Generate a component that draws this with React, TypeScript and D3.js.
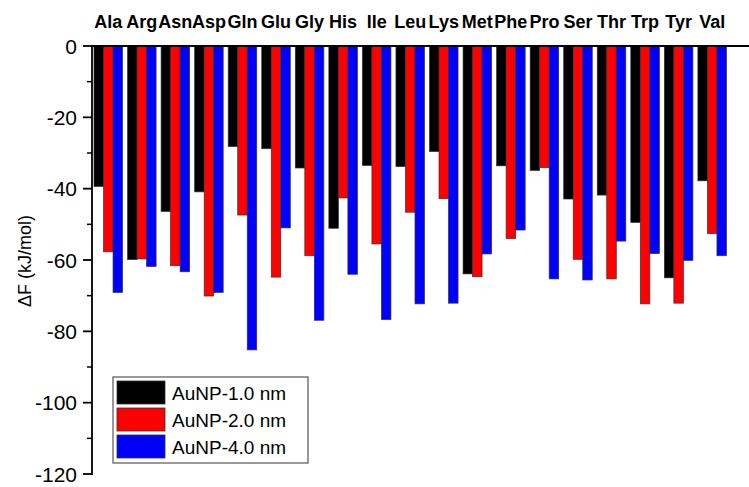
import { useEffect, useRef } from 'react'
import * as d3 from 'd3'

// amino acids across the top
const aminoAcids = ['Ala', 'Arg', 'Asn', 'Asp', 'Gln', 'Glu', 'Gly', 'His', 'Ile', 'Leu',
  'Lys', 'Met', 'Phe', 'Pro', 'Ser', 'Thr', 'Trp', 'Tyr', 'Val']

const seriesNames = ['AuNP-1.0 nm', 'AuNP-2.0 nm', 'AuNP-4.0 nm']
const seriesColors = ['#000000', '#ff0000', '#0000ff']

// ΔF values in kJ/mol
const np1 = [-39.4, -59.9, -46.4, -40.9, -28.2, -28.8, -34.2, -51.1, -33.5, -33.8,
  -29.6, -63.9, -33.6, -34.9, -42.9, -41.8, -49.5, -65.0, -37.8]
const np2 = [-57.7, -59.7, -61.6, -70.1, -47.4, -64.8, -58.8, -42.6, -55.5, -46.6,
  -42.8, -64.7, -54.0, -34.1, -59.8, -65.3, -72.3, -72.1, -52.6]
const np4 = [-69.1, -61.8, -63.3, -69.1, -85.2, -51.0, -76.9, -64.0, -76.7, -72.3,
  -72.1, -58.3, -51.6, -65.3, -65.6, -54.7, -58.2, -60.1, -58.8]

const yTicks = [0, -20, -40, -60, -80, -100, -120]
const yMinorTicks = [-10, -30, -50, -70, -90, -110]

export default function App() {
  const svgRef = useRef<SVGSVGElement>(null)

  useEffect(() => {
    if (!svgRef.current) return
    const svg = d3.select(svgRef.current)
    svg.selectAll('*').remove()

    const W = 749
    const H = 487
    const axisX = 92
    const top = 46
    const bottom = 474
    const font = 'Liberation Sans, Arial, sans-serif'

    svg.attr('width', W).attr('height', H)

    const y = d3.scaleLinear().domain([0, -120]).range([top, bottom])

    const step = 33.55
    const gap = 5
    const x0 = d3.scaleBand<string>()
      .domain(aminoAcids)
      .range([94, 94 + aminoAcids.length * step - gap])
      .paddingInner(gap / step)
      .paddingOuter(0)

    const x1 = d3.scaleBand<number>()
      .domain([0, 1, 2])
      .range([0, x0.bandwidth()])

    const series = [np1, np2, np4]

    // bars
    series.forEach((vals, si) => {
      svg.append('g')
        .selectAll('rect')
        .data(vals)
        .enter().append('rect')
        .attr('x', (d, i) => (x0(aminoAcids[i]) as number) + (x1(si) as number))
        .attr('y', y(0))
        .attr('width', x1.bandwidth())
        .attr('height', d => y(d) - y(0))
        .attr('fill', seriesColors[si])
        .attr('stroke', '#333')
        .attr('stroke-width', 0.7)
    })

    // top axis line at zero
    svg.append('line')
      .attr('x1', axisX).attr('x2', W)
      .attr('y1', y(0)).attr('y2', y(0))
      .attr('stroke', '#000').attr('stroke-width', 2)

    // left axis
    svg.append('line')
      .attr('x1', axisX).attr('x2', axisX)
      .attr('y1', top - 1).attr('y2', bottom + 1)
      .attr('stroke', '#000').attr('stroke-width', 1.8)

    svg.append('g')
      .selectAll('line')
      .data(yTicks)
      .enter().append('line')
      .attr('x1', axisX - 9).attr('x2', axisX)
      .attr('y1', d => y(d)).attr('y2', d => y(d))
      .attr('stroke', '#000').attr('stroke-width', 1.8)

    svg.append('g')
      .selectAll('line')
      .data(yMinorTicks)
      .enter().append('line')
      .attr('x1', axisX - 5).attr('x2', axisX)
      .attr('y1', d => y(d)).attr('y2', d => y(d))
      .attr('stroke', '#000').attr('stroke-width', 1.5)

    svg.append('g')
      .selectAll('text')
      .data(yTicks)
      .enter().append('text')
      .attr('x', axisX - 15)
      .attr('y', d => y(d))
      .attr('dy', '0.36em')
      .attr('text-anchor', 'end')
      .style('font-family', font)
      .style('font-size', '21px')
      .text(d => d3.format('d')(d).replace('−', '-'))

    // axis title
    svg.append('text')
      .attr('transform', `translate(31, ${(top + bottom) / 2 + 1}) rotate(-90)`)
      .attr('text-anchor', 'middle')
      .style('font-family', font)
      .style('font-size', '18px')
      .text('ΔF (kJ/mol)')

    // category labels above groups
    svg.append('g')
      .selectAll('text')
      .data(aminoAcids)
      .enter().append('text')
      .attr('x', d => (x0(d) as number) + x0.bandwidth() / 2)
      .attr('y', 28)
      .attr('text-anchor', 'middle')
      .style('font-family', font)
      .style('font-size', '18px')
      .style('font-weight', 'bold')
      .text(d => d)

    // legend
    const legend = svg.append('g').attr('transform', 'translate(113, 377)')
    legend.append('rect')
      .attr('width', 195).attr('height', 86)
      .attr('fill', '#fff')
      .attr('stroke', '#555').attr('stroke-width', 1.2)

    seriesNames.forEach((name, i) => {
      const row = legend.append('g').attr('transform', `translate(4, ${4 + i * 27})`)
      row.append('rect')
        .attr('width', 48).attr('height', 23)
        .attr('fill', seriesColors[i])
        .attr('stroke', '#333').attr('stroke-width', 0.8)
      row.append('text')
        .attr('x', 55).attr('y', 12)
        .attr('dy', '0.36em')
        .style('font-family', font)
        .style('font-size', '19px')
        .text(name)
    })
  }, [])

  return (
    <svg ref={svgRef} style={{ position: 'absolute', left: 0, top: 0, background: '#fff' }}></svg>
  )
}
